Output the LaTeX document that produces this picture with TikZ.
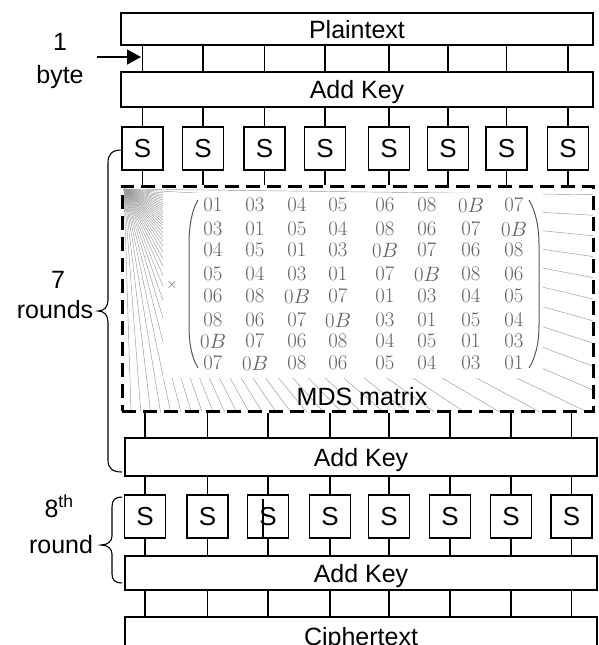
\documentclass[tikz,border=0pt]{standalone}
\usepackage{fontspec}
\newfontfamily\arialf{Liberation Sans}
\usetikzlibrary{arrows.meta}
\tikzset{
  bx/.style={draw, line width=1.3pt, inner sep=0pt, font=\arialf\fontsize{25}{25}\selectfont, text height=18pt, text depth=0pt},
  sbox/.style={bx, minimum width=41pt, minimum height=43pt, font=\arialf\fontsize{26}{26}\selectfont},
  wide/.style={bx, minimum width=472pt},
  wire/.style={line width=1.3pt},
  lbl/.style={font=\arialf\fontsize{25}{25}\selectfont, inner sep=0pt, anchor=base},
  mtx/.style={font=\fontsize{20}{20}\selectfont, text=black!62, inner sep=0pt},
  fan/.style={black!40, line width=0.45pt},
  paren/.style={black!65, line width=1pt},
  mdsbox/.style={draw, dash pattern=on 14pt off 7pt, line width=3pt, minimum width=471pt, minimum height=225pt, inner sep=0pt},
  brc/.style={line width=1.1pt},
}
\begin{document}
\begin{tikzpicture}[x=1pt,y=-1pt]
\clip (0,0) rectangle (599,645);
\fill[white] (0,0) rectangle (599,645);
% background fan of the MDS picture
\begin{scope}
  \clip (122,186) rectangle (593,411);
  \foreach \a in {0.7,3.2,...,89} \draw[fan] (124,189) -- ++(\a:700);
\end{scope}
\fill[white] (163,193) rectangle (543,378);
% matrix entries
\foreach \r/\yy/\row in {
  1/205/{01,03,04,05,06,08,0B,07},
  2/229/{03,01,05,04,08,06,07,0B},
  3/250/{04,05,01,03,0B,07,06,08},
  4/274/{05,04,03,01,07,0B,08,06},
  5/296/{06,08,0B,07,01,03,04,05},
  6/320/{08,06,07,0B,03,01,05,04},
  7/341/{0B,07,06,08,04,05,01,03},
  8/363/{07,0B,08,06,05,04,03,01}} {
  \foreach \e [count=\c] in \row {
    \pgfmathsetmacro{\xx}{{213,255,297,338,385,427,471,514}[\c-1]}
    \node[mtx] (m-\r-\c) at (\xx,\yy) {$\e$};
  }
}
\draw[paren] (198,200) .. controls (192,210) and (189,225) .. (189,245) -- (189,325) .. controls (189,345) and (192,358) .. (198,368);
\draw[paren] (529,200) .. controls (535,210) and (539,225) .. (539,245) -- (539,325) .. controls (539,345) and (535,358) .. (529,368);
\node[mtx, font=\fontsize{14}{14}\selectfont] (times) at (172,285) {$\times$};
% main boxes
\node[wide, minimum height=32pt] (plain) at (357,29) {Plaintext};
\node[wide, minimum height=35pt] (ak1) at (357,89.5) {Add Key};
\foreach \x [count=\i] in {142.5,203,264.5,325,389,448,506.5,568}
  \node[sbox] (s1-\i) at (\x,148.5) {S};
\node[mdsbox] (mds) at (357.5,298.5) {};
\node[lbl] (mdslabel) at (362,405) {MDS matrix};
\node[wide, minimum height=38pt] (ak2) at (361,457) {Add Key};
\foreach \x [count=\i] in {145,207.5,268,330,389,450,511,571.5}
  \node[sbox] (s2-\i) at (\x,516.5) {S};
\node[wide, minimum height=34pt] (ak3) at (361,573) {Add Key};
\node[wide, minimum height=38pt] (cipher) at (361,636) {Ciphertext};
% wires
\foreach \i in {1,...,8} {
  \draw[wire] (plain.south -| s1-\i) -- (ak1.north -| s1-\i);
  \draw[wire] (ak1.south -| s1-\i) -- (s1-\i.north);
  \draw[wire] (s1-\i.south) -- (mds.north -| s1-\i);
  \draw[wire] (mds.south -| s2-\i) -- (ak2.north -| s2-\i);
  \draw[wire] (ak2.south -| s2-\i) -- (s2-\i.north);
  \draw[wire] (s2-\i.south) -- (ak3.north -| s2-\i);
  \draw[wire] (ak3.south -| s2-\i) -- (cipher.north -| s2-\i);
}
\draw[wire] ([xshift=-5pt]s2-3.south) -- ([xshift=-5pt,yshift=-5pt]s2-3.north);
% 1 byte
\node[lbl] (one) at (60,50) {1};
\node[lbl] (byte) at (60,83) {byte};
\coordinate (bytefrom) at (97,57);
\coordinate (byteto) at (141,57);
\draw[wire, -{Triangle[length=14pt,width=15pt]}] (bytefrom) -- (byteto);
% 7 rounds
\node[lbl] (seven) at (58,288) {7};
\node[lbl] (rounds) at (55,318) {rounds};
\draw[brc] (122,150) .. controls (112,150) and (108,154) .. (108,163) -- (108,300) .. controls (108,307) and (104,311) .. (98,311) .. controls (104,311) and (108,315) .. (108,322) -- (108,460) .. controls (108,468) and (112,472) .. (122,472);
% 8th round
\node[lbl] (eighth) at (59,517) {8\textsuperscript{th}};
\node[lbl] (round) at (61,553) {round};
\draw[brc] (122,497) .. controls (115,497) and (112,500) .. (112,507) -- (112,536) .. controls (112,541) and (108,545) .. (101,545) .. controls (108,545) and (112,549) .. (112,554) -- (112,574) .. controls (112,580) and (115,583) .. (122,583);
\end{tikzpicture}
\end{document}
